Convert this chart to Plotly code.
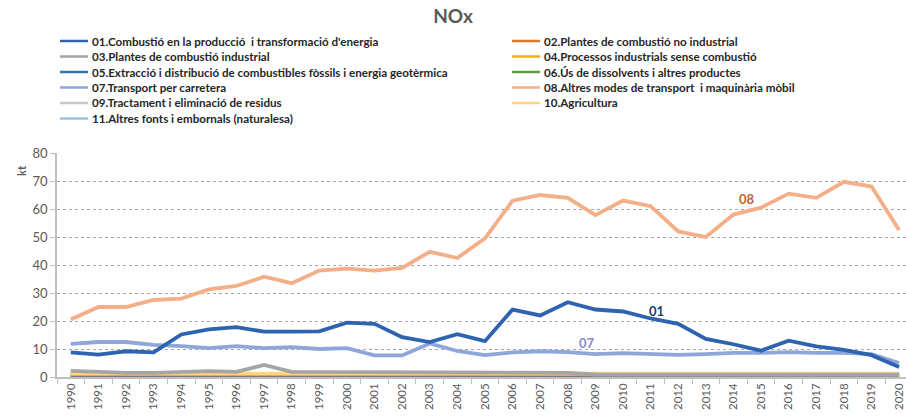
import plotly.graph_objects as go

years = [str(y) for y in range(1990, 2021)]

names = [
    "01.Combustió en la producció  i transformació d'energia",
    "02.Plantes de combustió no industrial",
    "03.Plantes de combustió industrial",
    "04.Processos industrials sense combustió",
    "05.Extracció i distribució de combustibles fòssils i energia geotèrmica",
    "06.Ús de dissolvents i altres productes",
    "07.Transport per carretera",
    "08.Altres modes de transport  i maquinària mòbil",
    "09.Tractament i eliminació de residus",
    "10.Agricultura",
    "11.Altres fonts i embornals (naturalesa)",
]

colors = [
    "#2E63B0", "#D9782F", "#A5A5A5", "#EDB010", "#2E75B6", "#5E9E3C",
    "#8FA6DA", "#F4AF88", "#C8C8C8", "#FFD67A", "#9DC3E6",
]

s01 = [8.8, 8.0, 9.2, 8.8, 15.2, 17.0, 17.8, 16.2, 16.2, 16.3, 19.4, 19.0, 14.2, 12.5,
       15.3, 12.8, 24.1, 22.0, 26.7, 24.1, 23.4, 20.9, 19.0, 13.6, 11.7, 9.4, 13.0, 10.9,
       9.7, 7.8, 3.6]
s02 = [0.9, 0.9, 0.9, 1.0, 1.0, 0.9, 0.9, 0.9, 0.9, 0.9, 0.9, 0.9, 0.9, 0.9,
       0.9, 0.9, 0.9, 0.9, 0.9, 0.9, 0.9, 0.9, 0.9, 0.9, 0.9, 0.9, 0.9, 0.9,
       0.9, 0.9, 0.9]
s03 = [2.2, 1.8, 1.5, 1.5, 1.8, 2.1, 1.8, 4.3, 1.8, 1.8, 1.8, 1.8, 1.8, 1.8,
       1.8, 1.7, 1.5, 1.7, 1.5, 0.9, 0.9, 0.9, 1.1, 1.1, 0.9, 0.9, 0.9, 0.9,
       0.9, 0.9, 0.8]
s04 = [1.0, 1.0, 1.0, 1.0, 1.0, 1.0, 1.0, 1.0, 1.0, 1.0, 1.0, 1.0, 1.0, 1.0,
       1.0, 1.0, 1.0, 1.0, 1.0, 1.0, 1.0, 1.0, 1.0, 1.0, 1.0, 1.0, 1.0, 1.0,
       1.0, 1.0, 1.0]
s05 = [0.1, 0.1, 0.1, 0.1, 0.1, 0.1, 0.1, 0.1, 0.1, 0.1, 0.1, 0.1, 0.1, 0.1,
       0.1, 0.1, 0.1, 0.1, 0.1, 0.1, 0.1, 0.1, 0.1, 0.1, 0.1, 0.1, 0.1, 0.1,
       0.1, 0.1, 0.1]
s06 = [0.1, 0.1, 0.1, 0.1, 0.1, 0.1, 0.1, 0.1, 0.1, 0.1, 0.1, 0.1, 0.1, 0.1,
       0.1, 0.1, 0.1, 0.1, 0.1, 0.1, 0.1, 0.1, 0.1, 0.1, 0.1, 0.1, 0.1, 0.1,
       0.1, 0.1, 0.1]
s07 = [11.8, 12.5, 12.5, 11.5, 11.0, 10.3, 11.0, 10.3, 10.7, 10.0, 10.3, 7.7, 7.7, 12.0,
       9.3, 7.8, 8.8, 9.2, 8.9, 8.2, 8.5, 8.3, 7.9, 8.2, 8.6, 8.6, 8.9, 8.6,
       8.6, 8.2, 5.0]
s08 = [20.5, 25.0, 25.0, 27.5, 28.0, 31.3, 32.5, 35.8, 33.5, 38.0, 38.7, 38.0, 39.0, 44.7,
       42.5, 49.5, 63.0, 65.0, 64.0, 57.8, 63.0, 61.0, 52.0, 50.0, 58.0, 60.5, 65.5, 64.0,
       69.7, 68.0, 52.5]
s09 = [0.6, 0.6, 0.6, 0.6, 0.6, 0.6, 0.6, 0.6, 0.6, 0.6, 0.6, 0.6, 0.6, 0.6,
       0.6, 0.6, 0.6, 0.6, 0.6, 0.6, 0.6, 0.6, 0.6, 0.6, 0.6, 0.6, 0.6, 0.6,
       0.6, 0.6, 0.6]
s10 = [1.2, 1.2, 1.2, 1.2, 1.2, 1.2, 1.2, 1.2, 1.2, 1.2, 1.2, 1.2, 1.2, 1.2,
       1.2, 1.2, 1.2, 1.2, 1.2, 1.2, 1.2, 1.2, 1.2, 1.2, 1.2, 1.2, 1.2, 1.2,
       1.2, 1.2, 1.2]
s11 = [0.2, 0.2, 0.2, 0.2, 0.2, 0.2, 0.2, 0.2, 0.2, 0.2, 0.2, 0.2, 0.2, 0.2,
       0.2, 0.2, 0.2, 0.2, 0.2, 0.2, 0.2, 0.2, 0.2, 0.2, 0.2, 0.2, 0.2, 0.2,
       0.2, 0.2, 0.2]

series = [s01, s02, s03, s04, s05, s06, s07, s08, s09, s10, s11]

# draw order: small sectors first, the big ones on top
draw_order = [10, 8, 5, 4, 3, 1, 9, 2, 6, 0, 7]

FONT = "Lato"
GREY = "#595959"
W, H = 906, 418
ML, MR, MT, MB = 57, 0, 153, 41
PW, PH = W - ML - MR, H - MT - MB


def px_x(x):
    # pixel column -> paper x
    return (x - ML) / PW


def px_y(y):
    # pixel row -> paper y
    return (H - MB - y) / PH


fig = go.Figure()
for i in draw_order:
    fig.add_trace(go.Scatter(
        x=years, y=series[i], name=names[i], mode="lines",
        line=dict(color=colors[i], width=3.8),
        showlegend=False,
    ))

# two-column legend: odd sectors on the left, even sectors on the right
col_x = [60, 512]
row_y0, row_dy = 41, 15.5
for i, nm in enumerate(names):
    cx = col_x[i % 2]
    cy = row_y0 + (i // 2) * row_dy
    fig.add_shape(type="line", xref="paper", yref="paper",
                  x0=px_x(cx), x1=px_x(cx + 28), y0=px_y(cy), y1=px_y(cy),
                  line=dict(color=colors[i], width=2.5))
    fig.add_annotation(x=px_x(cx + 30), y=px_y(cy), xref="paper", yref="paper",
                       text="<b>" + nm + "</b>", showarrow=False,
                       xanchor="left", yanchor="middle",
                       font=dict(family=FONT, size=11.6, color="#262626"))

# series tags next to the lines
tags = [("08", 24.5, 63.4, "#C0652A"), ("01", 21.2, 23.5, "#1F3A6E"), ("07", 18.7, 12.1, "#8A86CC")]
for txt, xi, yv, col in tags:
    fig.add_annotation(x=xi, y=yv, text="<b>" + txt + "</b>", showarrow=False,
                       font=dict(family=FONT, size=13, color=col), xref="x", yref="y")

# unit label at the top of the value axis
fig.add_annotation(x=px_x(13), y=px_y(163), xref="paper", yref="paper",
                   text="<b>kt</b>", showarrow=False, textangle=-90,
                   font=dict(family=FONT, size=11, color=GREY))

fig.update_layout(
    width=W, height=H,
    margin=dict(l=ML, r=MR, t=MT, b=MB, autoexpand=False),
    paper_bgcolor="white", plot_bgcolor="white",
    font=dict(family=FONT, color=GREY),
    title=dict(text="<b>NOx</b>", x=0.5, xanchor="center", y=0.96, yanchor="middle",
               yref="container", font=dict(family=FONT, size=19, color=GREY)),
    showlegend=False,
    xaxis=dict(
        type="category", range=[-0.5, 30.25],
        tickangle=-90, tickfont=dict(family=FONT, size=11.5, color=GREY),
        ticks="outside", tickson="boundaries", ticklen=5, tickcolor="#BFBFBF",
        showline=True, linecolor="#BFBFBF", linewidth=1.5, showgrid=False,
    ),
    yaxis=dict(
        range=[0, 80], dtick=10, tickfont=dict(family=FONT, size=13, color=GREY),
        ticks="outside", ticklen=5, tickcolor="#BFBFBF",
        showline=True, linecolor="#BFBFBF", linewidth=1.5,
        showgrid=True, gridcolor="#A6A6A6", griddash="dot", gridwidth=1,
        zeroline=False,
    ),
)

fig.write_html("out.html")
